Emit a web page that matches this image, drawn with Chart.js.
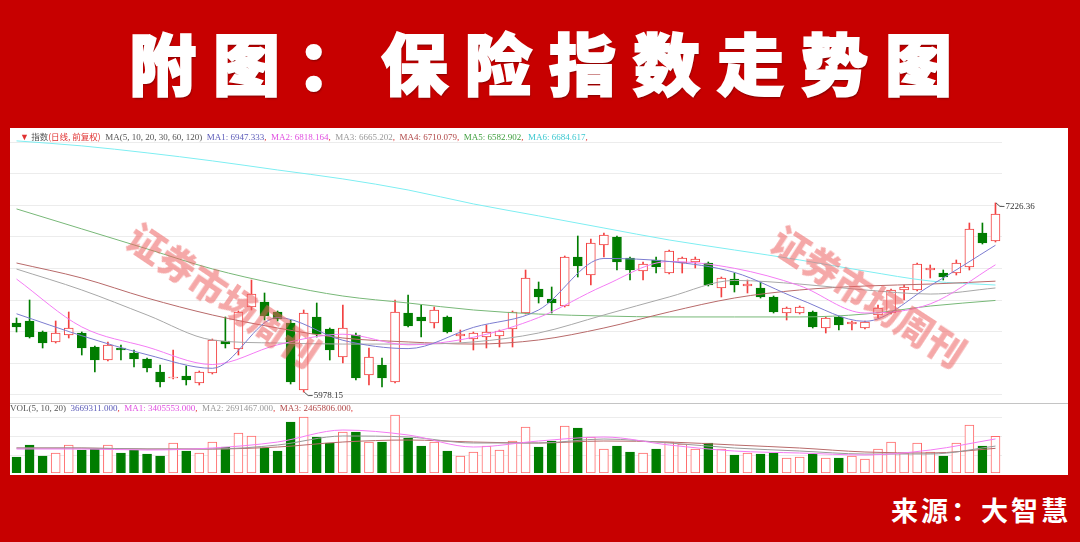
<!DOCTYPE html>
<html>
<head>
<meta charset="utf-8">
<script src="https://cdn.jsdelivr.net/npm/chart.js@4"></script>
<style>
  body { margin: 0; width: 1080px; height: 542px; background: #c70000; position: relative; overflow: hidden; font-family: "Noto Sans CJK SC", sans-serif; }
  #title { position: absolute; left: 0; top: 27px; width: 1080px; padding-left: 18px; box-sizing: border-box; text-align: center; color: #fff; font-size: 67px; line-height: 67px; font-weight: 900; letter-spacing: 17px; -webkit-text-stroke: 2px #fff; text-shadow: 1px 2px 2px rgba(0,0,0,0.35); }
  #panel { position: absolute; left: 10px; top: 128px; width: 1058px; height: 347px; background: #fff; }
  #priceBox { position: absolute; left: 0; top: 0; }
  #volBox { position: absolute; left: 0; top: 277px; }
  #sep { position: absolute; left: 0; top: 275px; width: 1058px; height: 1px; background: #c4c4c4; }
  .legend { position: absolute; white-space: pre; font-family: "Liberation Serif", "Noto Sans CJK SC", serif; font-size: 9px; line-height: 11px; color: #555; z-index: 2; }
  .legend .cn { font-family: "Noto Sans CJK SC", sans-serif; font-size: 8.5px; }
  .legend .r { color: #e03030; }
  .mark { position: absolute; font-size: 37px; line-height: 37px; font-weight: 900; color: rgba(236, 96, 96, 0.55); white-space: nowrap; transform-origin: 0 50%; z-index: 3; }
  #source { position: absolute; right: 9px; top: 496px; color: #fff; font-size: 27px; line-height: 27px; font-weight: 700; letter-spacing: 3px; }
</style>
</head>
<body>
<div id="title">附图：保险指数走势图</div>
<div id="panel">
  <div id="priceBox"><canvas id="price" width="1058" height="274"></canvas></div>
  <div id="sep"></div>
  <div id="volBox"><canvas id="vol" width="1058" height="70"></canvas></div>
  <div class="legend" id="priceLegend" style="left:10px; top:3px;"></div>
  <div class="legend" id="volLegend" style="left:0px; top:275px;"></div>
</div>
<div class="mark" style="left:132px; top:214px; transform: rotate(34deg);">证券市场周刊</div>
<div class="mark" style="left:776px; top:217px; transform: rotate(33deg);">证券市场周刊</div>
<div id="source">来源：大智慧</div>

<script>
// daily candles (76 sessions)
const opens = [6434.0, 6447.2, 6374.6, 6308.6, 6354.8, 6368.0, 6275.6, 6189.8, 6269.0, 6236.0,
  6196.4, 6110.6, 6071.0, 6084.2, 6038.0, 6104.0, 6315.2, 6262.4, 6539.6, 6572.6,
  6506.6, 6434.0, 5991.8, 6473.6, 6394.4, 6209.6, 6354.8, 6090.8, 6156.8, 6044.6,
  6500.0, 6473.6, 6434.0, 6473.6, 6348.2, 6328.4, 6341.6, 6348.2, 6394.4, 6500.0,
  6658.4, 6592.4, 6546.2, 6869.6, 6750.8, 6948.8, 7001.6, 6863.0, 6777.2, 6849.8,
  6764.0, 6830.0, 6836.6, 6830.0, 6665.0, 6724.4, 6678.2, 6665.0, 6605.6, 6500.0,
  6500.0, 6506.6, 6401.0, 6473.6, 6427.4, 6401.0, 6486.8, 6500.0, 6651.8, 6651.8,
  6783.8, 6764.0, 6764.0, 6803.6, 7028.0, 6975.2];
const highs = [6467.0, 6585.8, 6381.2, 6447.2, 6506.6, 6374.6, 6282.2, 6308.6, 6288.8, 6255.8,
  6203.0, 6156.8, 6255.8, 6150.2, 6117.2, 6328.4, 6473.6, 6513.2, 6717.8, 6632.0,
  6513.2, 6453.8, 6519.8, 6566.0, 6401.0, 6552.8, 6368.0, 6269.0, 6203.0, 6585.8,
  6618.8, 6552.8, 6539.6, 6480.2, 6387.8, 6374.6, 6420.8, 6387.8, 6513.2, 6783.8,
  6704.6, 6671.6, 6876.2, 7008.2, 6988.4, 7028.0, 7008.2, 6869.6, 6836.6, 6869.6,
  6915.8, 6869.6, 6869.6, 6836.6, 6737.6, 6764.0, 6717.8, 6704.6, 6612.2, 6539.6,
  6546.2, 6513.2, 6473.6, 6480.2, 6447.2, 6447.2, 6552.8, 6658.4, 6684.8, 6830.0,
  6816.8, 6783.8, 6849.8, 7094.0, 7094.0, 7226.36];
const lows = [6374.6, 6335.0, 6269.0, 6302.0, 6335.0, 6222.8, 6110.6, 6183.2, 6189.8, 6143.6,
  6110.6, 6011.6, 6064.4, 6024.8, 6024.8, 6097.4, 6269.0, 6222.8, 6519.8, 6453.8,
  6447.2, 6031.4, 5978.15, 6341.6, 6189.8, 6170.0, 6057.8, 6024.8, 6011.6, 6038.0,
  6407.6, 6341.6, 6401.0, 6368.0, 6308.6, 6255.8, 6269.0, 6275.6, 6275.6, 6493.4,
  6566.0, 6500.0, 6539.6, 6737.6, 6684.8, 6869.6, 6783.8, 6717.8, 6717.8, 6764.0,
  6757.4, 6764.0, 6797.0, 6678.2, 6605.6, 6638.6, 6632.0, 6599.0, 6500.0, 6453.8,
  6493.4, 6401.0, 6368.0, 6387.8, 6387.8, 6394.4, 6467.0, 6493.4, 6585.8, 6645.2,
  6731.0, 6717.8, 6750.8, 6783.8, 6955.4, 6968.6];
const closes = [6407.6, 6341.6, 6302.0, 6368.0, 6401.0, 6269.0, 6189.8, 6288.8, 6255.8, 6196.4,
  6137.0, 6044.6, 6077.6, 6057.8, 6110.6, 6321.8, 6295.4, 6506.6, 6625.4, 6480.2,
  6460.4, 6044.6, 6500.0, 6361.4, 6255.8, 6401.0, 6071.0, 6209.6, 6071.0, 6506.6,
  6414.2, 6447.2, 6519.8, 6374.6, 6361.4, 6368.0, 6374.6, 6381.2, 6506.6, 6731.0,
  6605.6, 6566.0, 6869.6, 6810.2, 6962.0, 7014.8, 6836.6, 6783.8, 6823.4, 6803.6,
  6909.2, 6863.0, 6856.4, 6684.8, 6731.0, 6684.8, 6691.4, 6605.6, 6506.6, 6533.0,
  6539.6, 6407.6, 6467.0, 6420.8, 6440.6, 6440.6, 6533.0, 6651.8, 6671.6, 6823.4,
  6797.0, 6737.6, 6830.0, 7054.4, 6962.0, 7153.4];

// volume, in 10k shares
const vols = [160, 280, 170, 200, 280, 230, 240, 280, 200, 230,
  190, 170, 300, 220, 200, 310, 260, 400, 370, 250,
  220, 510, 560, 360, 300, 410, 410, 310, 310, 580,
  350, 270, 310, 220, 170, 210, 270, 230, 320, 460,
  260, 320, 470, 450, 360, 240, 270, 210, 200, 240,
  310, 290, 240, 300, 240, 180, 200, 190, 200, 150,
  160, 190, 150, 150, 170, 140, 240, 310, 200, 300,
  210, 170, 300, 480, 270, 366.9311];

// moving averages, read at every 5th session
const maIdx = [0, 5, 10, 15, 20, 25, 30, 35, 40, 45, 50, 55, 60, 65, 70, 75];
const ma5 = [6495, 6350, 6225, 6135, 6470, 6320, 6265, 6405, 6520, 6860, 6840, 6768, 6590, 6445, 6680, 6947.333];
const ma10 = [6724, 6408, 6276, 6160, 6290, 6360, 6290, 6340, 6470, 6680, 6840, 6795, 6680, 6500, 6560, 6818.164];
const ma20 = [6790, 6652, 6487, 6322, 6302, 6295, 6295, 6309, 6368, 6487, 6606, 6715, 6691, 6652, 6625, 6665.202];
const ma30 = [6830, 6731, 6599, 6487, 6401, 6335, 6309, 6295, 6322, 6401, 6507, 6599, 6652, 6678, 6691, 6710.079];
const ma60 = [7187, 7055, 6923, 6791, 6691, 6612, 6566, 6520, 6493, 6480, 6474, 6474, 6474, 6493, 6546, 6582.902];
const ma120 = [7636, 7603, 7557, 7504, 7444, 7385, 7312, 7220, 7141, 7061, 6982, 6916, 6850, 6777, 6711, 6684.617];
const volMa5 = [240, 240, 230, 250, 310, 430, 380, 260, 320, 360, 280, 220, 200, 180, 230, 340.5553];
const volMa10 = [250, 250, 240, 240, 280, 370, 360, 300, 300, 340, 300, 250, 220, 190, 190, 269.1467];
const volMa20 = [250, 250, 240, 240, 260, 310, 330, 310, 300, 320, 310, 280, 250, 210, 200, 246.5806];

const gridTicks = [5959, 6167, 6376, 6585, 6793, 7002, 7210, 7419, 7628];
const volGrid = [180, 370, 560];

const days = opens.map((_, i) => String(i + 1));
const up = opens.map((o, i) => closes[i] >= o);
const RED = '#f24040', GREEN = '#007d00';

const spread = vals => days.map((_, i) => {
  const k = maIdx.indexOf(i);
  return k < 0 ? null : vals[k];
});

const maLine = (label, vals, color) => ({
  type: 'line', label, data: spread(vals), borderColor: color, borderWidth: 1,
  pointRadius: 0, spanGaps: true, cubicInterpolationMode: 'monotone', order: 0
});

// legends
const fmt = v => v.toFixed(3);
const last = a => a[a.length - 1];
document.getElementById('priceLegend').innerHTML =
  '<span class="r">▼</span> <span class="cn">指数</span><span class="r cn">(日线, 前复权)</span>  MA(5, 10, 20, 30, 60, 120)  ' +
  [['MA1', ma5, '#5a5ab8'], ['MA2', ma10, '#e050e0'], ['MA3', ma20, '#999'],
   ['MA4', ma30, '#b04848'], ['MA5', ma60, '#3f9f3f'], ['MA6', ma120, '#3cc8d0']]
    .map(([n, a, c]) => `<span style="color:${c}">${n}: ${fmt(last(a))}</span><span class="r">, </span>`).join(' ');
document.getElementById('volLegend').innerHTML =
  'VOL(5, 10, 20)  <span style="color:#5a5ab8">' + (last(vols) * 10000).toFixed(3) + '</span><span class="r">, </span> ' +
  [['MA1', volMa5, '#e050e0'], ['MA2', volMa10, '#999'], ['MA3', volMa20, '#b04848']]
    .map(([n, a, c]) => `<span style="color:${c}">${n}: ${(last(a) * 10000).toFixed(3)}</span><span class="r">, </span>`).join(' ');

// hi / lo markers
const extremaLabels = {
  id: 'extremaLabels',
  afterDatasetsDraw(chart) {
    const { ctx, scales: { x, y } } = chart;
    const hi = highs.indexOf(Math.max(...highs));
    const lo = lows.indexOf(Math.min(...lows));
    ctx.save();
    ctx.font = '9px "Liberation Serif"';
    ctx.fillStyle = '#333';
    ctx.strokeStyle = '#555';
    ctx.lineWidth = 1;
    ctx.textBaseline = 'middle';
    let px = x.getPixelForValue(lo), py = y.getPixelForValue(lows[lo]);
    ctx.beginPath(); ctx.moveTo(px + 0.5, py); ctx.lineTo(px + 4.5, py + 3.5); ctx.lineTo(px + 9, py + 3.5); ctx.stroke();
    ctx.fillText(lows[lo].toFixed(2), px + 10, py + 3.5);
    px = x.getPixelForValue(hi); py = y.getPixelForValue(highs[hi]);
    ctx.beginPath(); ctx.moveTo(px + 0.5, py); ctx.lineTo(px + 4.5, py + 3.5); ctx.lineTo(px + 9, py + 3.5); ctx.stroke();
    ctx.fillText(highs[hi].toFixed(2), px + 10, py + 3.5);
    ctx.restore();
  }
};

const hiddenX = { type: 'category', display: false, offset: true };

new Chart(document.getElementById('price'), {
  data: {
    labels: days,
    datasets: [
      maLine('MA1', ma5, '#7c7cd0'),
      maLine('MA2', ma10, '#f47cf4'),
      maLine('MA3', ma20, '#a8a8a8'),
      maLine('MA4', ma30, '#b86a6a'),
      maLine('MA5', ma60, '#78b878'),
      maLine('MA6', ma120, '#7eeef2'),
      {
        type: 'bar', label: 'body',
        data: opens.map((o, i) => [o, closes[i]]),
        backgroundColor: up.map(u => u ? '#ffffff' : GREEN),
        borderColor: up.map(u => u ? RED : GREEN),
        borderWidth: 1, borderSkipped: false, barThickness: 9, grouped: false, order: 1
      },
      {
        type: 'bar', label: 'wick',
        data: lows.map((l, i) => [l, highs[i]]),
        backgroundColor: up.map(u => u ? RED : GREEN),
        barThickness: 1, grouped: false, order: 2
      }
    ]
  },
  options: {
    responsive: false,
    animation: false,
    layout: { padding: { left: 0, right: 66, top: 0, bottom: 0 } },
    plugins: { legend: { display: false }, tooltip: { enabled: false } },
    scales: {
      x: hiddenX,
      y: {
        min: 5912.6, max: 7721,
        afterBuildTicks: s => { s.ticks = gridTicks.map(v => ({ value: v })); },
        ticks: { display: false },
        border: { display: false },
        grid: { color: '#ececec', drawTicks: false }
      }
    }
  },
  plugins: [extremaLabels]
});

new Chart(document.getElementById('vol'), {
  data: {
    labels: days,
    datasets: [
      maLine('VMA5', volMa5, '#f47cf4'),
      maLine('VMA10', volMa10, '#9a9a9a'),
      maLine('VMA20', volMa20, '#b86a6a'),
      {
        type: 'bar', label: 'vol', data: vols,
        backgroundColor: up.map(u => u ? '#ffffff' : GREEN),
        borderColor: up.map(u => u ? '#ff6a6a' : GREEN),
        borderWidth: 1, borderSkipped: false, barThickness: 9, order: 1
      }
    ]
  },
  options: {
    responsive: false,
    animation: false,
    layout: { padding: { left: 0, right: 66, top: 0, bottom: 2 } },
    plugins: { legend: { display: false }, tooltip: { enabled: false } },
    scales: {
      x: hiddenX,
      y: {
        min: 0, max: 680,
        afterBuildTicks: s => { s.ticks = volGrid.map(v => ({ value: v })); },
        ticks: { display: false },
        border: { display: false },
        grid: { color: '#ececec', drawTicks: false }
      }
    }
  }
});
</script>
</body>
</html>
